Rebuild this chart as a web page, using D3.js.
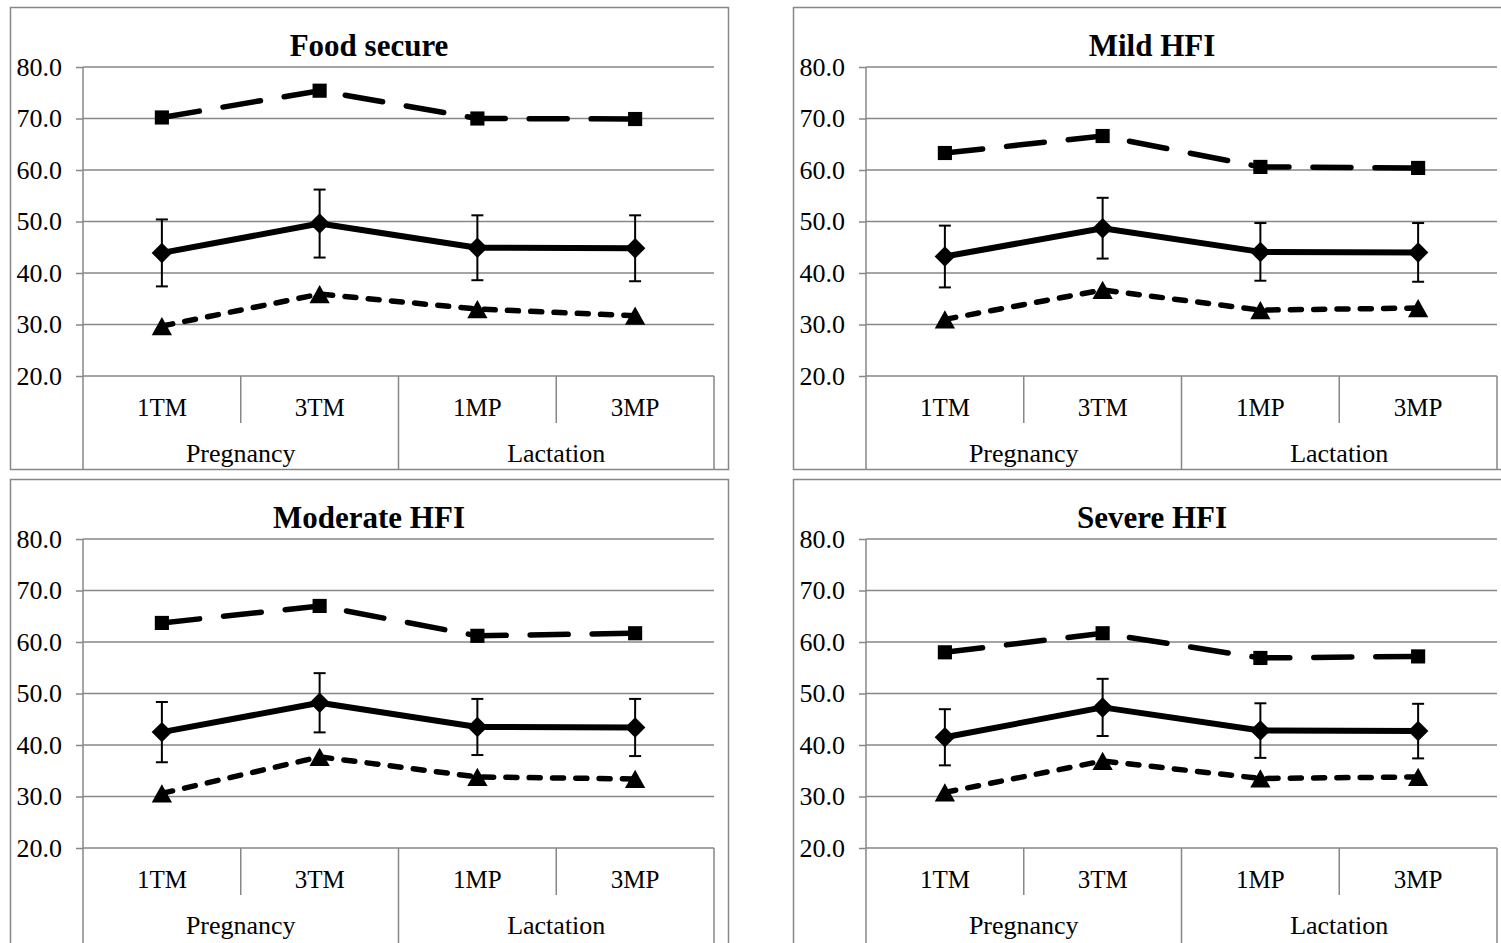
<!DOCTYPE html>
<html>
<head>
<meta charset="utf-8">
<script src="https://cdn.jsdelivr.net/npm/d3@7"></script>
<style>
  html, body { margin: 0; padding: 0; background: #fff; }
  svg { display: block; }
  text { font-family: "Liberation Serif", "Times New Roman", serif; fill: #000; }
</style>
</head>
<body>
<svg id="chart" width="1501" height="943"></svg>
<script>
// ---------- data ----------
const categories = ["1TM", "3TM", "1MP", "3MP"];
const groupLabels = ["Pregnancy", "Lactation"];
const groupMembers = [["1TM", "3TM"], ["1MP", "3MP"]];
const panelTitles = ["Food secure", "Mild HFI", "Moderate HFI", "Severe HFI"];
const yTicks = [20, 30, 40, 50, 60, 70, 80];

// dashed series with square markers
const upperValues = [
  [70.2, 75.4, 70.0, 69.9],
  [63.3, 66.6, 60.6, 60.4],
  [63.7, 67.0, 61.2, 61.7],
  [58.0, 61.7, 56.9, 57.2]
];
// solid series with diamond markers (with error bars)
const meanValues = [
  [43.9, 49.6, 44.9, 44.8],
  [43.2, 48.7, 44.1, 44.0],
  [42.5, 48.2, 43.5, 43.4],
  [41.5, 47.3, 42.8, 42.7]
];
const meanErrors = [
  [6.5, 6.6, 6.3, 6.4],
  [6.0, 5.9, 5.6, 5.7],
  [5.85, 5.75, 5.45, 5.55],
  [5.45, 5.55, 5.3, 5.3]
];
// short-dashed series with triangle markers
const lowerValues = [
  [29.7, 35.9, 33.0, 31.7],
  [31.0, 36.7, 32.8, 33.2],
  [30.6, 37.7, 33.8, 33.4],
  [30.8, 36.9, 33.5, 33.8]
];

// ---------- layout ----------
const panelOrigins = [[10, 7], [793, 7], [10, 479], [793, 479]];
const panelHeights = [462, 462, 466, 466];
const panelW = 718;
const plotLeft = 73, plotTop = 60, plotW = 631, plotH = 309, catH = 93;
const gridColor = "#878787";

const svg = d3.select("#chart");
svg.append("rect").attr("width", 1501).attr("height", 943).attr("fill", "#fff");

const y = d3.scaleLinear().domain([20, 80]).range([plotH, 0]);
const x = d3.scaleBand().domain(categories).range([0, plotW]);
const cx = c => x(c) + x.bandwidth() / 2;

const triangleType = {
  draw(ctx, size) {
    const w = Math.sqrt(size) * 1.1, h = w * 0.9;
    ctx.moveTo(0, -h / 2);
    ctx.lineTo(w / 2, h / 2);
    ctx.lineTo(-w / 2, h / 2);
    ctx.closePath();
  }
};

panelTitles.forEach((title, i) => {
  const [ox, oy] = panelOrigins[i];
  const panelH = panelHeights[i];
  const panel = svg.append("g").attr("transform", `translate(${ox},${oy})`);

  panel.append("rect")
    .attr("x", 0.5).attr("y", 0.5).attr("width", panelW).attr("height", panelH)
    .attr("fill", "#fff").attr("stroke", gridColor).attr("stroke-width", 1.5);

  panel.append("text")
    .attr("x", panelW / 2).attr("y", 48.5)
    .attr("text-anchor", "middle")
    .attr("font-size", 31).attr("font-weight", "bold")
    .text(title);

  const g = panel.append("g").attr("transform", `translate(${plotLeft},${plotTop})`);

  // gridlines
  g.selectAll("line.grid").data(yTicks).join("line")
    .attr("class", "grid")
    .attr("x1", 0).attr("x2", plotW)
    .attr("y1", d => y(d)).attr("y2", d => y(d))
    .attr("stroke", gridColor).attr("stroke-width", 1.5);

  // y axis
  const yAxis = g.append("g").call(
    d3.axisLeft(y).tickValues(yTicks).tickFormat(d3.format(".1f"))
      .tickSize(7).tickPadding(14)
  );
  yAxis.select(".domain").remove();
  yAxis.selectAll(".tick line").attr("stroke", gridColor).attr("stroke-width", 1.5);
  yAxis.selectAll(".tick text")
    .attr("font-size", 26).attr("font-family", "Liberation Serif, Times New Roman, serif")
    .attr("fill", "#000");

  // y axis line (continues through the category area)
  const bottom = plotH + catH + (panelH - 462);
  g.append("line").attr("x1", 0).attr("x2", 0).attr("y1", 0).attr("y2", bottom)
    .attr("stroke", gridColor).attr("stroke-width", 1.5);
  g.append("line").attr("x1", plotW).attr("x2", plotW).attr("y1", plotH).attr("y2", bottom)
    .attr("stroke", gridColor).attr("stroke-width", 1.5);

  // category dividers
  const inner = categories.slice(1).filter(c => !groupMembers.some(m => m[0] === c));
  g.selectAll("line.cdiv").data(inner).join("line")
    .attr("x1", d => x(d)).attr("x2", d => x(d))
    .attr("y1", plotH).attr("y2", plotH + 47)
    .attr("stroke", gridColor).attr("stroke-width", 1.5);
  const groupStarts = groupMembers.slice(1).map(m => m[0]);
  g.selectAll("line.gdiv").data(groupStarts).join("line")
    .attr("x1", d => x(d)).attr("x2", d => x(d))
    .attr("y1", plotH).attr("y2", bottom)
    .attr("stroke", gridColor).attr("stroke-width", 1.5);

  // category labels
  g.selectAll("text.cat").data(categories).join("text")
    .attr("x", d => cx(d)).attr("y", plotH + 40)
    .attr("text-anchor", "middle").attr("font-size", 25)
    .text(d => d);

  g.selectAll("text.grp").data(groupLabels).join("text")
    .attr("x", (d, k) => {
      const m = groupMembers[k];
      return (x(m[0]) + x(m[m.length - 1]) + x.bandwidth()) / 2;
    })
    .attr("y", plotH + 86)
    .attr("text-anchor", "middle").attr("font-size", 26)
    .text(d => d);

  const line = d3.line().x((d, k) => cx(categories[k])).y(d => y(d));

  // upper dashed series
  g.append("path").datum(upperValues[i]).attr("d", line)
    .attr("fill", "none").attr("stroke", "#000").attr("stroke-width", 5.5)
    .attr("stroke-linecap", "round").attr("stroke-dasharray", "38 24");
  g.selectAll("path.sq").data(upperValues[i]).join("path")
    .attr("transform", (d, k) => `translate(${cx(categories[k])},${y(d)})`)
    .attr("d", d3.symbol().type(d3.symbolSquare).size(200))
    .attr("fill", "#000");

  // lower short-dashed series
  g.append("path").datum(lowerValues[i]).attr("d", line)
    .attr("fill", "none").attr("stroke", "#000").attr("stroke-width", 5.5)
    .attr("stroke-linecap", "round").attr("stroke-dasharray", "11 12.3");
  g.selectAll("path.tri").data(lowerValues[i]).join("path")
    .attr("transform", (d, k) => `translate(${cx(categories[k])},${y(d)})`)
    .attr("d", d3.symbol().type(triangleType).size(340))
    .attr("fill", "#000");

  // error bars
  const eb = g.selectAll("g.eb").data(meanValues[i]).join("g")
    .attr("transform", (d, k) => `translate(${cx(categories[k])},0)`);
  eb.append("line")
    .attr("y1", (d, k) => y(d + meanErrors[i][k])).attr("y2", (d, k) => y(d - meanErrors[i][k]))
    .attr("stroke", "#000").attr("stroke-width", 2);
  eb.append("line").attr("x1", -6).attr("x2", 6)
    .attr("y1", (d, k) => y(d + meanErrors[i][k])).attr("y2", (d, k) => y(d + meanErrors[i][k]))
    .attr("stroke", "#000").attr("stroke-width", 2);
  eb.append("line").attr("x1", -6).attr("x2", 6)
    .attr("y1", (d, k) => y(d - meanErrors[i][k])).attr("y2", (d, k) => y(d - meanErrors[i][k]))
    .attr("stroke", "#000").attr("stroke-width", 2);

  // solid mean series
  g.append("path").datum(meanValues[i]).attr("d", line)
    .attr("fill", "none").attr("stroke", "#000").attr("stroke-width", 6)
    .attr("stroke-linejoin", "round");
  g.selectAll("path.dm").data(meanValues[i]).join("path")
    .attr("transform", (d, k) => `translate(${cx(categories[k])},${y(d)}) rotate(45)`)
    .attr("d", d3.symbol().type(d3.symbolSquare).size(210))
    .attr("fill", "#000");
});
</script>
</body>
</html>
